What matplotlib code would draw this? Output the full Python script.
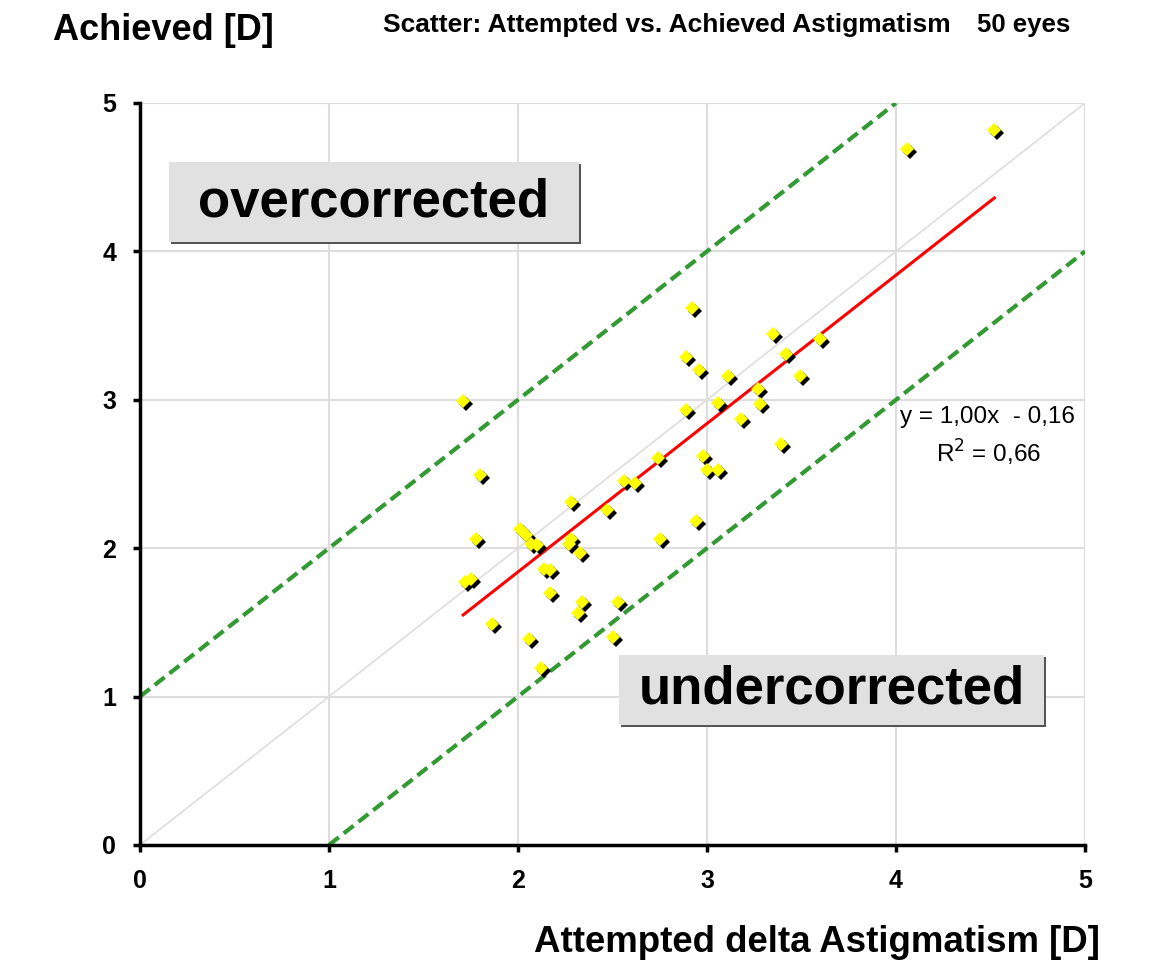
#!/usr/bin/env python3

import matplotlib
matplotlib.use("Agg")
import matplotlib.pyplot as plt
import matplotlib.transforms as mtransforms
from matplotlib.patches import Rectangle

# Attempted vs achieved astigmatism.
attempted = [2.92, 3.35, 3.60, 2.89, 3.42, 2.96, 3.11, 3.49, 1.71, 3.27,
             3.06, 3.28, 2.89, 3.18, 3.39, 1.80, 2.74, 2.98, 3.00, 3.06,
             2.56, 2.62, 2.28, 2.47, 2.94, 1.78, 2.01, 2.04, 2.07, 2.10,
             2.28, 2.27, 2.33, 2.75, 1.72, 1.75, 2.14, 2.17, 2.17, 2.34,
             2.53, 2.32, 1.86, 2.06, 2.50, 2.12, 4.06, 4.52]
achieved = [3.62, 3.44, 3.41, 3.29, 3.31, 3.20, 3.16, 3.16, 2.99, 3.07,
            2.98, 2.97, 2.93, 2.87, 2.70, 2.49, 2.61, 2.62, 2.53, 2.53,
            2.45, 2.44, 2.31, 2.26, 2.18, 2.06, 2.13, 2.09, 2.03, 2.02,
            2.06, 2.03, 1.97, 2.06, 1.77, 1.79, 1.86, 1.85, 1.70, 1.64,
            1.64, 1.56, 1.49, 1.39, 1.40, 1.19, 4.69, 4.82]

# Trend line y = 1.00x - 0.16 over the data range
trend_x = [1.71, 4.52]
trend_y = [1.55, 4.36]

# +/- 1 D limits and the identity line
upper_x = [0, 4]
upper_y = [1, 5]
lower_x = [1, 5]
lower_y = [0, 4]
ident_x = [0, 5]
ident_y = [0, 5]

ticks = [0, 1, 2, 3, 4, 5]

plt.rcParams['font.family'] = ['Liberation Sans', 'DejaVu Sans']

fig = plt.figure(figsize=(11.51, 9.65), dpi=100)
ax = fig.add_axes([0.1216, 0.1244, 0.8211, 0.7689])

ax.set_xlim(0, 5)
ax.set_ylim(0, 5)
ax.set_xticks(ticks)
ax.set_yticks(ticks)
ax.grid(True, color='#dddddd', linewidth=1.5)
ax.set_axisbelow(True)
for side in ('top', 'right'):
    ax.spines[side].set_visible(False)
for side in ('left', 'bottom'):
    ax.spines[side].set_linewidth(2.5)
ax.tick_params(direction='out', length=5, width=2.5, labelsize=18, pad=12)
for lab in ax.get_xticklabels() + ax.get_yticklabels():
    lab.set_fontweight('bold')

ax.plot(ident_x, ident_y, color='#dddddd', linewidth=1.2, zorder=1)
ax.plot(upper_x, upper_y, color='#339933', linewidth=3, dashes=(3, 1.5), zorder=2)
ax.plot(lower_x, lower_y, color='#339933', linewidth=3, dashes=(3, 1.5), zorder=2)
ax.plot(trend_x, trend_y, color='red', linewidth=2.2, zorder=3)

# diamond markers with a black shadow, like the spreadsheet original
shadow = mtransforms.offset_copy(ax.transData, fig=fig, x=3, y=-3, units='dots')
ax.plot(attempted, achieved, 'D', color='black', markersize=7.5, markeredgewidth=0,
        transform=shadow, zorder=4, clip_on=False)
ax.plot(attempted, achieved, 'D', color='#ffff00', markersize=7.5, markeredgewidth=0,
        zorder=5, clip_on=False)

# labelled boxes
def label_box(x0, y0, w, h, text):
    sh = mtransforms.offset_copy(ax.transData, fig=fig, x=2, y=-2, units='dots')
    ax.add_patch(Rectangle((x0, y0), w, h, facecolor='#555555', edgecolor='none',
                           transform=sh, zorder=6))
    ax.add_patch(Rectangle((x0, y0), w, h, facecolor='#e1e1e1', edgecolor='none', zorder=7))
    ax.text(x0 + w / 2, y0 + h / 2, text, ha='center', va='center', fontsize=38,
            fontweight='bold', zorder=8)

label_box(0.153, 4.06, 2.17, 0.54, 'overcorrected')
label_box(2.534, 0.81, 2.249, 0.47, 'undercorrected')

ax.text(4.484, 2.884, 'y = 1,00x  - 0,16', ha='center', va='center', fontsize=17.5)
ax.text(4.49, 2.64, 'R$^2$ = 0,66', ha='center', va='center', fontsize=17.5)

fig.text(53 / 1151, 1 - 30 / 965, 'Achieved [D]', ha='left', va='center',
         fontsize=26, fontweight='bold')
fig.text(383 / 1151, 1 - 25 / 965, 'Scatter: Attempted vs. Achieved Astigmatism',
         ha='left', va='center', fontsize=19, fontweight='bold')
fig.text(1070 / 1151, 1 - 25 / 965, '50 eyes', ha='right', va='center',
         fontsize=18.5, fontweight='bold')
fig.text(1100 / 1151, 1 - 943 / 965, 'Attempted delta Astigmatism [D]', ha='right',
         va='center', fontsize=26.4, fontweight='bold')

fig.savefig('out.png', dpi=100)
